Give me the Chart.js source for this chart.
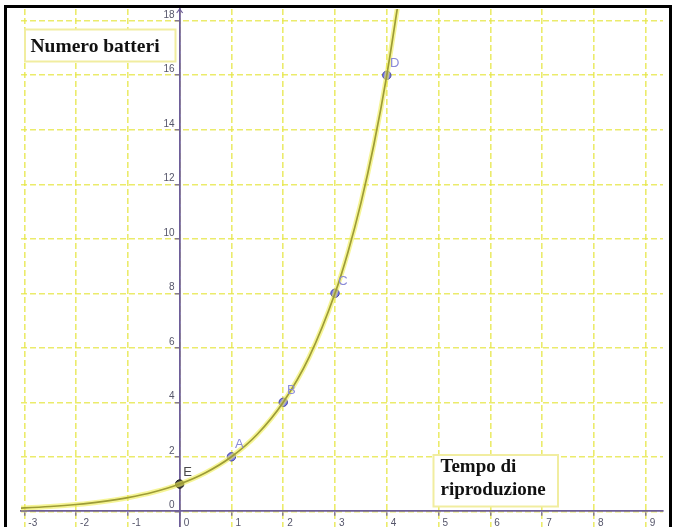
<!DOCTYPE html>
<html>
<head>
<meta charset="utf-8">
<script src="https://cdn.jsdelivr.net/npm/chart.js@4"></script>
<style>
  html, body { margin: 0; padding: 0; background: #ffffff; }
  canvas { display: block; }
</style>
</head>
<body>
<canvas id="c" width="680" height="527"></canvas>
<script>
// ---- data ----
const xTicks = [-3, -2, -1, 0, 1, 2, 3, 4, 5, 6, 7, 8, 9];
const yTicks = [0, 2, 4, 6, 8, 10, 12, 14, 16, 18];
const pointNames = ['E', 'A', 'B', 'C', 'D'];
const pointX = [0, 1, 2, 3, 4];
const pointY = [1, 2, 4, 8, 16];
const curveX = [-3.1, -3, -2.5, -2, -1.5, -1, -0.5, 0, 0.5, 1, 1.5, 2, 2.5, 3, 3.25, 3.5, 3.75, 4, 4.25];
const curveY = [0.117, 0.125, 0.177, 0.25, 0.354, 0.5, 0.707, 1, 1.414, 2, 2.828, 4, 5.657, 8, 9.51, 11.31, 13.45, 16, 19.03];
const yTitle = 'Numero batteri';
const xTitle = ['Tempo di', 'riproduzione'];

const GRID = 'rgba(230,230,70,0.8)';
const AXIS = '#6e5e99';
const TICKTXT = '#55556a';
const TICKFONT = '10px "Liberation Sans", Arial, sans-serif';

const curve = curveX.map((x, i) => ({ x, y: curveY[i] }));
const pts = pointX.map((x, i) => ({ x, y: pointY[i] }));
const ptFill = pointNames.map(n => n === 'E' ? '#474747' : '#7474ff');
const ptEdge = pointNames.map(n => n === 'E' ? '#1a1a1a' : '#4a4a9a');

const framePlugin = {
  id: 'frame',
  beforeDraw(chart) {
    const ctx = chart.ctx;
    ctx.save();
    ctx.fillStyle = '#ffffff';
    ctx.fillRect(0, 0, chart.width, chart.height);
    ctx.restore();
  },
  afterDatasetsDraw(chart) {
    const ctx = chart.ctx;
    const xs = chart.scales.x;
    const ys = chart.scales.y;
    const ax = xs.getPixelForValue(0);
    const meta = chart.getDatasetMeta(2);
    ctx.save();

    // y tick labels (left of the vertical axis, slightly above each tick)
    ctx.font = TICKFONT;
    ctx.fillStyle = TICKTXT;
    ctx.textAlign = 'right';
    ctx.textBaseline = 'middle';
    yTicks.forEach(v => {
      ctx.fillText(String(v), ax - 5, ys.getPixelForValue(v) - 6);
    });

    // point labels
    ctx.font = '13px "Liberation Sans", Arial, sans-serif';
    ctx.textAlign = 'center';
    meta.data.forEach((el, i) => {
      ctx.fillStyle = pointNames[i] === 'E' ? '#4a4a4a' : '#8a8ad8';
      ctx.fillText(pointNames[i], el.x + 8, el.y - 12);
    });

    // y-axis arrow tip
    const top = chart.chartArea.top;
    ctx.strokeStyle = AXIS;
    ctx.lineWidth = 1.2;
    ctx.beginPath();
    ctx.moveTo(ax - 3, top + 4);
    ctx.lineTo(ax, top);
    ctx.lineTo(ax + 3, top + 4);
    ctx.stroke();

    // text boxes
    function box(x, y, w, h) {
      ctx.fillStyle = '#ffffff';
      ctx.fillRect(x, y, w, h);
      ctx.strokeStyle = '#f1eda0';
      ctx.lineWidth = 2;
      ctx.strokeRect(x, y, w, h);
    }
    box(25, 29.5, 150.5, 32);
    ctx.fillStyle = '#111111';
    ctx.textAlign = 'left';
    ctx.textBaseline = 'alphabetic';
    ctx.font = 'bold 19.5px "Liberation Serif", "Times New Roman", serif';
    ctx.fillText(yTitle, 30.5, 51.5);

    box(433.5, 455, 124.5, 51.5);
    ctx.fillStyle = '#111111';
    ctx.font = 'bold 19px "Liberation Serif", "Times New Roman", serif';
    ctx.fillText(xTitle[0], 440.5, 472);
    ctx.fillText(xTitle[1], 440.5, 495);

    // outer black frame (left, top, right)
    ctx.fillStyle = '#000000';
    ctx.fillRect(4, 5, 3, chart.height - 5);
    ctx.fillRect(4, 5, 668, 3);
    ctx.fillRect(669, 5, 3, chart.height - 5);
    ctx.restore();
  }
};

function zeroPad(s) { s.paddingTop = 0; s.paddingBottom = 0; s.paddingLeft = 0; s.paddingRight = 0; }

new Chart(document.getElementById('c'), {
  type: 'scatter',
  data: {
    datasets: [
      {
        data: curve, showLine: true, borderColor: 'rgba(240,238,80,0.6)', borderWidth: 5,
        pointRadius: 0, cubicInterpolationMode: 'monotone', clip: 0
      },
      {
        data: curve, showLine: true, borderColor: '#222210', borderWidth: 1.7,
        pointRadius: 0, cubicInterpolationMode: 'monotone', clip: 0
      },
      {
        data: pts, showLine: false, pointRadius: 4.2, pointBorderWidth: 1,
        backgroundColor: ptFill, borderColor: ptEdge,
        pointBackgroundColor: ptFill, pointBorderColor: ptEdge
      }
    ]
  },
  options: {
    responsive: false,
    animation: false,
    devicePixelRatio: 1,
    layout: { autoPadding: false, padding: { left: 21, right: 17, top: 9, bottom: 0 } },
    plugins: { legend: { display: false }, tooltip: { enabled: false } },
    scales: {
      x: {
        type: 'linear', min: -3.064, max: 9.334, position: { y: 0 },
        afterBuildTicks: s => { s.ticks = xTicks.map(v => ({ value: v })); },
        afterFit: zeroPad,
        ticks: {
          autoSkip: false, maxRotation: 0, align: 'start', labelOffset: 4, padding: 2,
          color: TICKTXT, font: { size: 10, family: '"Liberation Sans", Arial, sans-serif' },
          callback: v => String(v)
        },
        grid: {
          color: GRID, lineWidth: 1.6, drawTicks: true, tickLength: 4,
          tickColor: AXIS, tickWidth: 1.2, tickBorderDash: []
        },
        border: { display: true, color: AXIS, width: 1.8, dash: [6, 3] }
      },
      y: {
        type: 'linear', min: -0.576, max: 18.433, position: { x: 0 },
        afterBuildTicks: s => { s.ticks = yTicks.map(v => ({ value: v })); },
        afterFit: zeroPad,
        ticks: { display: false, autoSkip: false },
        grid: {
          color: GRID, lineWidth: 1.6, drawTicks: true, tickLength: 4,
          tickColor: AXIS, tickWidth: 1.2, tickBorderDash: []
        },
        border: { display: true, color: AXIS, width: 1.8, dash: [6, 3] }
      }
    }
  },
  plugins: [framePlugin]
});
</script>
</body>
</html>
